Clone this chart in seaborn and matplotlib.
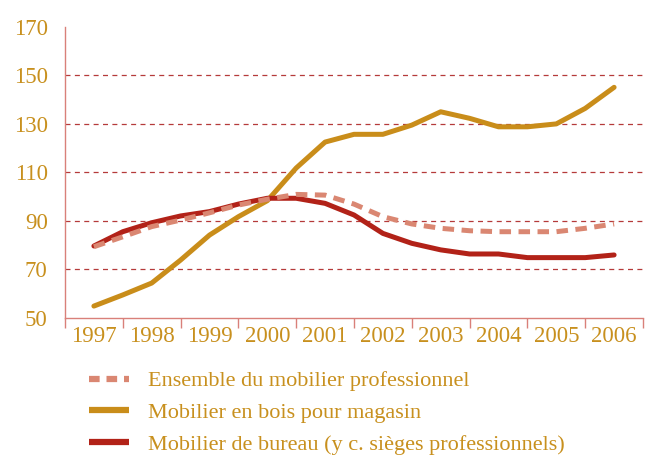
import matplotlib
matplotlib.use("Agg")
import matplotlib.pyplot as plt
import seaborn as sns
import pandas as pd
from matplotlib.ticker import FixedLocator, NullFormatter

# Half-year observation points (index base 2000 ~ 100)
periods = [1997.0, 1997.5, 1998.0, 1998.5, 1999.0, 1999.5, 2000.0, 2000.5,
           2001.0, 2001.5, 2002.0, 2002.5, 2003.0, 2003.5, 2004.0, 2004.5,
           2005.0, 2005.5, 2006.0]

ensemble = [79.3, 83.4, 87.6, 90.3, 93.3, 96.5, 98.9, 100.9, 100.6, 96.9,
            91.7, 88.7, 86.9, 85.9, 85.5, 85.5, 85.5, 86.9, 88.7]
bois_magasin = [54.8, 59.4, 64.3, 73.8, 84.1, 91.7, 98.3, 111.8, 122.5, 125.7,
                125.7, 129.5, 135.0, 132.3, 128.8, 128.8, 130.0, 136.4, 145.1]
bureau = [79.6, 85.5, 89.2, 92.0, 93.8, 96.9, 99.3, 99.3, 97.2, 92.4,
          84.8, 80.7, 78.0, 76.3, 76.3, 74.8, 74.8, 74.8, 75.9]

years = [1997, 1998, 1999, 2000, 2001, 2002, 2003, 2004, 2005, 2006]
y_ticks = [50, 70, 90, 110, 130, 150, 170]

labels = ["Ensemble du mobilier professionnel",
          "Mobilier en bois pour magasin",
          "Mobilier de bureau (y c. sièges professionnels)"]

df = pd.concat([
    pd.DataFrame({"periode": periods, "indice": ensemble, "serie": labels[0]}),
    pd.DataFrame({"periode": periods, "indice": bois_magasin, "serie": labels[1]}),
    pd.DataFrame({"periode": periods, "indice": bureau, "serie": labels[2]}),
])

GOLD = "#C98D1A"
RED = "#B22218"
PINK = "#DA8772"
TEXT = "#C8901E"
SPINE = "#D9807A"
GRID = "#B53A3A"

sns.set_style("white")
plt.rcParams["font.family"] = ["Liberation Serif", "DejaVu Serif"]

fig = plt.figure(figsize=(6.45, 4.59), dpi=100)
ax = fig.add_axes([65 / 645, 1 - 317.7 / 459, (643 - 65) / 645, (317.7 - 27) / 459])

palette = {labels[0]: PINK, labels[1]: GOLD, labels[2]: RED}
dashes = {labels[0]: (2.3, 1.5), labels[1]: "", labels[2]: ""}

for gy in y_ticks[1:-1]:
    ax.axhline(gy, color=GRID, lw=0.9, ls=(0, (4, 3.5)), zorder=0)

sns.lineplot(data=df, x="periode", y="indice", hue="serie", style="serie",
             palette=palette, dashes=dashes, linewidth=3.6, ax=ax,
             legend=False, sort=False)
# keep the dashed line drawn above the solid ones
for line in ax.get_lines():
    if line.get_color() == PINK:
        line.set_zorder(5)

ax.set_xlim(1996.5, 2006.5)
ax.set_ylim(50, 170)
ax.set_xlabel("")
ax.set_ylabel("")

ax.xaxis.set_major_locator(FixedLocator(years))
ax.set_xticklabels([str(y) for y in years])
ax.xaxis.set_minor_locator(FixedLocator([y - 0.5 for y in years] + [2006.5]))
ax.xaxis.set_minor_formatter(NullFormatter())
ax.tick_params(axis="x", which="major", length=0, pad=6, labelsize=16.5,
               labelcolor=TEXT)
ax.tick_params(axis="x", which="minor", length=7, width=1, color=SPINE,
               direction="out", bottom=True)
ax.set_yticks(y_ticks)
ax.tick_params(axis="y", length=5, width=1, color=SPINE, direction="inout",
               pad=10, labelsize=16.5, labelcolor=TEXT)

for side in ("top", "right"):
    ax.spines[side].set_visible(False)
for side in ("left", "bottom"):
    ax.spines[side].set_color(SPINE)
    ax.spines[side].set_linewidth(1.0)

handles = [
    plt.Line2D([], [], color=PINK, lw=4.5, dashes=(1.7, 1.1),
               dash_capstyle="butt"),
    plt.Line2D([], [], color=GOLD, lw=4.5, solid_capstyle="butt"),
    plt.Line2D([], [], color=RED, lw=4.5, solid_capstyle="butt"),
]
leg = fig.legend(handles, labels, loc="upper left",
                 bbox_to_anchor=(80 / 645, 1 - 362 / 459), frameon=False,
                 fontsize=16, handlelength=1.8, handletextpad=0.85,
                 labelspacing=0.5, borderaxespad=0)
for t in leg.get_texts():
    t.set_color(TEXT)

fig.savefig("out.png", dpi=100)
